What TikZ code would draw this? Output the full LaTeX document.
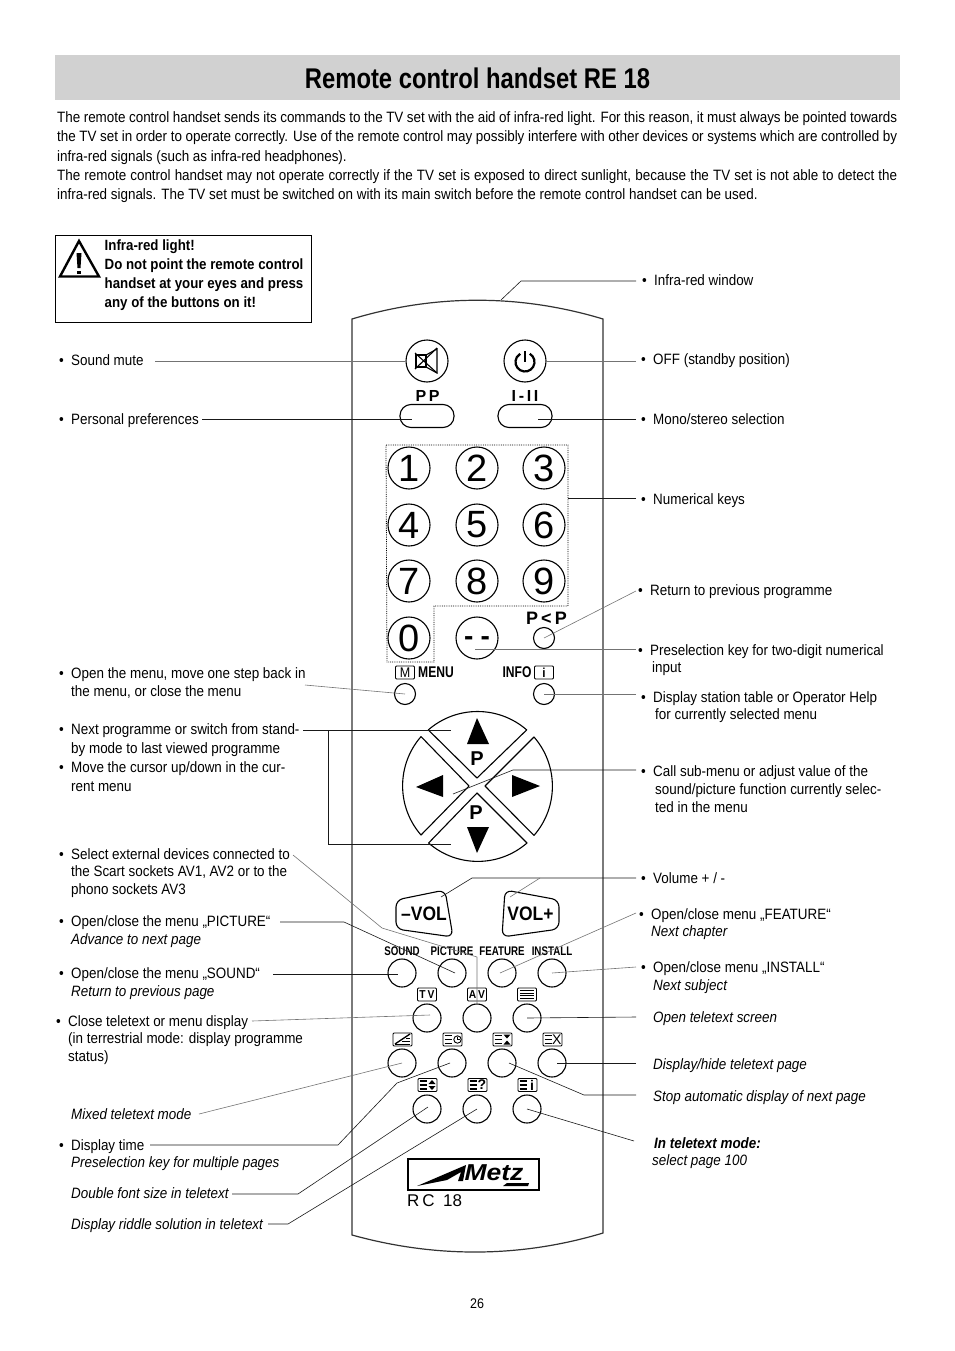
\documentclass[tikz,border=0pt]{standalone}
\usepackage{fontspec}
\usetikzlibrary{calc}
\setmainfont[FakeStretch=0.895]{Liberation Sans}
\newfontfamily\plainsans{Liberation Sans}
\newfontfamily\titlefamily[FakeStretch=0.835]{Liberation Sans}
\newfontfamily\narrowfamily[FakeStretch=0.78]{Liberation Sans}
\newfontfamily\logofamily[FakeStretch=1.15]{Liberation Sans}
\newcommand{\labelfont}{\fontsize{15}{18}\selectfont}
\newcommand{\keyfont}{\narrowfamily\bfseries\fontsize{12.5}{14}\selectfont}
\newcommand{\bul}{\textbullet\hspace{7.3pt}}
\newcommand{\ind}{\hspace*{12pt}}
\newcommand{\fullline}[1]{\makebox[840pt][s]{#1}}
\tikzset{
  label text/.style={
    anchor=north west,
    inner sep=0pt,
    yshift=-1pt,
    align=left,
    font=\labelfont
  },
  leader/.style={
    line width=0.6pt,
    color=black!90
  },
  faint leader/.style={
    line width=0.6pt,
    color=black!55
  },
  key line/.style={
    draw=black,
    line width=1.1pt
  },
  digit key/.style={
    key line,
    circle,
    inner sep=0pt,
    minimum size=42pt,
    font=\plainsans\fontsize{38}{38}\selectfont
  },
  round key/.style={
    key line,
    circle,
    inner sep=0pt,
    minimum size=28pt
  },
  tiny key/.style={
    key line,
    circle,
    inner sep=0pt,
    minimum size=21pt
  },
  pill key/.style={
    key line,
    rectangle,
    rounded corners=11pt,
    minimum width=54pt,
    minimum height=23pt
  },
  icon box/.style={
    draw=black,
    line width=0.9pt,
    rectangle,
    rounded corners=1pt,
    inner sep=0pt,
    minimum width=19pt,
    minimum height=13pt,
    font=\bfseries\fontsize{11.5}{11.5}\selectfont
  },
  key text/.style={
    inner sep=0pt,
    font=\plainsans\bfseries\fontsize{16}{16}\selectfont
  },
  small key text/.style={
    inner sep=0pt,
    font=\keyfont
  },
  menu lines/.pic={
    \draw[line width=1.2pt] (-3.5,-4) -- (3.5,-4) (-3.5,0) -- (3.5,0) (-3.5,4) -- (3.5,4);
  }
}
\begin{document}
\begin{tikzpicture}[x=1pt, y=-1pt]
  \useasboundingbox (0,0) rectangle (954,1351);

  %% ---- title band ----
  \fill[black!18] (55,55) rectangle (900,100);
  \node[inner sep=0pt, font=\titlefamily\bfseries\fontsize{28.5}{30}\selectfont] (titleText) at (477.5,78) {Remote control handset RE 18};

  %% ---- intro text ----
  \node[label text, font=\fontsize{15}{19.3}\selectfont] (introText) at (57,110.5) {%
    \fullline{The remote control handset sends its commands to the TV set with the aid of infra-red light. For this reason, it must always be pointed towards}\\
    \fullline{the TV set in order to operate correctly. Use of the remote control may possibly interfere with other devices or systems which are controlled by}\\
    infra-red signals (such as infra-red headphones).\\
    \fullline{The remote control handset may not operate correctly if the TV set is exposed to direct sunlight, because the TV set is not able to detect the}\\
    infra-red signals. The TV set must be switched on with its main switch before the remote control handset can be used.};

  %% ---- warning box ----
  \draw[line width=0.9pt] (55,235) rectangle (311,322);
  \draw[line width=2.4pt, line join=miter] (79,241) -- (99,276.5) -- (60,276.5) -- cycle;
  \fill (76.5,253) -- (81.5,253) -- (80.5,268) -- (77.5,268) -- cycle;
  \fill (77,271) rectangle (81,274);
  \node[label text, font=\bfseries\fontsize{14.85}{19}\selectfont] (warnText) at (104.5,238.5) {Infra-red light!\\Do not point the remote control\\handset at your eyes and press\\any of the buttons on it!};

  %% ---- handset outline ----
  \draw[line width=1.2pt, black!80] (352,319) .. controls (435,294) and (520,294) .. (603,319)
      -- (603,1233) .. controls (520,1258) and (435,1258) .. (352,1235) -- cycle;

  %% ---- mute and power ----
  \node[digit key] (keyMute) at (427,361) {};
  \node[digit key] (keyPower) at (525,361) {};
  \draw[line width=1.3pt] (416,355) rectangle (426,367);
  \draw[line width=1.1pt] (426,355) -- (437,349) -- (437,373) -- (426,367);
  \draw[line width=1.1pt] (415,353) -- (437,373) (415,369) -- (437,348);
  \draw[line width=2.2pt] (525,362) ++(300:9.5) arc[start angle=300, end angle=600, radius=9.5];
  \draw[line width=2.2pt] (525,351) -- (525,362);

  \node[key text] (textPP) at (427.5,395.5) {P\,P};
  \node[key text] (textMono) at (525,395.5) {I\,-\,I\,I};
  \node[pill key] (keyPP) at (427,416) {};
  \node[pill key] (keyMono) at (525,416) {};

  %% ---- number block ----
  \draw[densely dotted, line width=0.8pt] (386,445) -- (568,445) -- (568,606) -- (434,606) -- (434,662) -- (387,662) -- cycle;
  \foreach \digit/\px/\py in {1/409/468, 2/477/468, 3/544/468, 4/409/525, 5/477/525, 6/544/525, 7/409/581, 8/477/581, 9/544/581, 0/409/638}
    \node[digit key] (key\digit) at (\px,\py) {\digit};
  \node[digit key, font=\plainsans\bfseries\fontsize{28}{28}\selectfont] (keyDash) at (477,638) {\raisebox{-7.5pt}[0pt][0pt]{-\hspace{7pt}-}};
  \node[tiny key] (keyPrev) at (544,638) {};
  \node[key text, font=\plainsans\bfseries\fontsize{18}{18}\selectfont] (textPrev) at (546.5,618) {P\,<\,P};

  %% ---- menu and info ----
  \node[icon box, font=\fontsize{14}{14}\selectfont] (iconMenu) at (405,672.5) {M};
  \node[small key text, font=\narrowfamily\bfseries\fontsize{15.5}{15}\selectfont] (textMenu) at (436,672) {MENU};
  \node[small key text, font=\narrowfamily\bfseries\fontsize{15.5}{15}\selectfont] (textInfo) at (517,672) {INFO};
  \node[icon box, font=\bfseries\fontsize{13}{13}\selectfont] (iconInfo) at (544,672.5) {i};
  \node[tiny key] (keyMenu) at (405,694) {};
  \node[tiny key] (keyInfo) at (544,694) {};

  %% ---- cursor cross ----
  \draw[key line, line join=round] (428.3,729.9) arc[start angle=229, end angle=311, radius=75] -- (477,778) -- cycle;
  \draw[key line, line join=round] (534,737) arc[start angle=-41, end angle=41, radius=75] -- (485,786) -- cycle;
  \draw[key line, line join=round] (527,843) arc[start angle=49, end angle=131, radius=75] -- (477,793) -- cycle;
  \draw[key line, line join=round] (421,835) arc[start angle=139, end angle=221, radius=75] -- (469,786) -- cycle;
  \fill (477,718) -- (489,744) -- (467,744) -- cycle;
  \fill (477,853) -- (489,827) -- (467,827) -- cycle;
  \fill (416,787) -- (443,775) -- (443,797) -- cycle;
  \fill (540,786) -- (512,775) -- (512,797) -- cycle;
  \node[key text, font=\plainsans\bfseries\fontsize{20}{20}\selectfont] (textUp) at (477,759) {P};
  \node[key text, font=\plainsans\bfseries\fontsize{20}{20}\selectfont] (textDown) at (476,813) {P};

  %% ---- volume keys ----
  \draw[key line, rounded corners=7pt] (396,900) -- (445,890) -- (453,937) -- (396,929) -- cycle;
  \draw[key line, rounded corners=7pt] (559,900) -- (505,890) -- (502,937) -- (559,929) -- cycle;
  \node[key text, font=\bfseries\fontsize{19.5}{19.5}\selectfont] (textVolMinus) at (424,914) {–VOL};
  \node[key text, font=\bfseries\fontsize{19.5}{19.5}\selectfont] (textVolPlus) at (530.5,914) {VOL+};

  %% ---- colour row ----
  \foreach \name/\txt/\px in {Sound/SOUND/402, Picture/PICTURE/452, Feature/FEATURE/502, Install/INSTALL/552} {
    \node[small key text] (text\name) at (\px,951) {\txt};
    \node[round key] (key\name) at (\px,973) {};
  }

  %% ---- teletext rows ----
  \foreach \name/\px/\py in {Tv/427/1018, Av/477/1018, Text/527/1018, Mix/402/1063, Clock/452/1063, Stop/502/1063, Hide/552/1063, Size/427/1109, Riddle/477/1109, Page/527/1109}
    \node[round key] (key\name) at (\px,\py) {};

  \node[icon box] (iconTv) at (427,994.5) {T\,V};
  \node[icon box] (iconAv) at (477,994.5) {A\,V};
  \node[icon box] (iconText) at (527,994.5) {};
  \draw[line width=0.9pt] (520,990.5) -- (534,990.5) (520,993.2) -- (534,993.2) (520,995.9) -- (534,995.9) (520,998.6) -- (534,998.6);

  \node[icon box] (iconMix) at (402.5,1039.5) {};
  \draw[line width=1.3pt] (395,1044) -- (410,1034);
  \draw[line width=1pt] (395,1044.5) -- (410,1044.5) (402,1041.5) -- (410,1041.5) (406,1038.5) -- (410,1038.5);

  \node[icon box] (iconClock) at (452.5,1039.5) {};
  \pic at (448,1039.5) {menu lines};
  \draw[line width=0.9pt] (457.5,1039.5) circle[radius=3.7];
  \draw[line width=0.7pt] (457.5,1037) -- (457.5,1039.5) -- (460,1039.5);

  \node[icon box] (iconHold) at (502.5,1039.5) {};
  \pic at (498,1039.5) {menu lines};
  \fill (503.5,1034.5) -- (510.5,1034.5) -- (507,1038.5) -- cycle;
  \fill (503.5,1044.5) -- (510.5,1044.5) -- (507,1040.5) -- cycle;

  \node[icon box] (iconHide) at (552.5,1039.5) {};
  \pic at (548,1039.5) {menu lines};
  \node[inner sep=0pt, font=\plainsans\fontsize{14}{14}\selectfont] (textHide) at (556.8,1039.5) {X};

  \node[icon box] (iconSize) at (427.5,1085) {};
  \pic at (423,1085) {menu lines};
  \fill (428.5,1084) -- (435.5,1084) -- (432,1080) -- cycle;
  \fill (428.5,1086) -- (435.5,1086) -- (432,1090) -- cycle;

  \node[icon box] (iconRiddle) at (477.5,1085) {};
  \pic at (473,1085) {menu lines};
  \node[inner sep=0pt, font=\plainsans\bfseries\fontsize{14}{14}\selectfont] (textRiddle) at (481.8,1085) {?};

  \node[icon box] (iconPage) at (527.5,1085) {};
  \pic at (523,1085) {menu lines};
  \node[inner sep=0pt, font=\plainsans\bfseries\fontsize{14}{14}\selectfont] (textPage) at (532,1085) {i};

  %% ---- logo ----
  \draw[line width=1.6pt] (408,1159) rectangle (539,1190);
  \fill (417,1186) -- (466,1165) -- (463,1181) -- (458,1181) -- (461,1172) -- (447,1180) -- cycle;
  \fill (503,1186) -- (528,1186) -- (529,1183) -- (507,1183) -- cycle;
  \node[inner sep=0pt, font=\logofamily\bfseries\itshape\fontsize{23}{23}\selectfont] (logoText) at (494,1173) {Metz};
  \node[anchor=west, inner sep=0pt, font=\plainsans\fontsize{17}{17}\selectfont] (modelText) at (407,1201) {R\,C\,\,\,18};

  %% ---- left labels ----
  \node[label text] (lblMute) at (59,353) {\bul Sound mute};
  \node[label text] (lblPersonal) at (59,412) {\bul Personal preferences};
  \node[label text] (lblMenu) at (59,666) {\bul Open the menu, move one step back in\\\ind the menu, or close the menu};
  \node[label text, font=\fontsize{15}{19}\selectfont] (lblNext) at (59,722) {\bul Next programme or switch from stand-\\\ind by mode to last viewed programme\\\bul Move the cursor up/down in the cur-\\\ind rent menu};
  \node[label text, font=\fontsize{15}{17.5}\selectfont] (lblExternal) at (59,847) {\bul Select external devices connected to\\\ind the Scart sockets AV1, AV2 or to the\\\ind phono sockets AV3};
  \node[label text] (lblPicture) at (59,914) {\bul Open/close the menu „PICTURE“\\\ind\textit{Advance to next page}};
  \node[label text] (lblSound) at (59,966) {\bul Open/close the menu „SOUND“\\\ind\textit{Return to previous page}};
  \node[label text, font=\fontsize{15}{17.5}\selectfont] (lblClose) at (56,1014) {\bul Close teletext or menu display\\\ind(in terrestrial mode: display programme\\\ind status)};
  \node[label text, font=\labelfont\itshape] (lblMixed) at (71,1107) {Mixed teletext mode};
  \node[label text, font=\fontsize{15}{17.5}\selectfont] (lblTime) at (59,1138) {\bul Display time\\\ind\textit{Preselection key for multiple pages}};
  \node[label text, font=\labelfont\itshape] (lblDouble) at (71,1186) {Double font size in teletext};
  \node[label text, font=\labelfont\itshape] (lblRiddle) at (71,1217) {Display riddle solution in teletext};

  %% ---- right labels ----
  \node[label text] (lblWindow) at (642,273) {\bul Infra-red window};
  \node[label text] (lblOff) at (641,352) {\bul OFF (standby position)};
  \node[label text] (lblMono) at (641,412) {\bul Mono/stereo selection};
  \node[label text] (lblNumeric) at (641,492) {\bul Numerical keys};
  \node[label text] (lblReturn) at (638,583) {\bul Return to previous programme};
  \node[label text, font=\fontsize{15}{17.5}\selectfont] (lblPreselect) at (638,643) {\bul Preselection key for two-digit numerical\\\hspace*{14pt}input};
  \node[label text, font=\fontsize{15}{17.5}\selectfont] (lblStation) at (641,690) {\bul Display station table or Operator Help\\\hspace*{14pt}for currently selected menu};
  \node[label text] (lblCall) at (641,764) {\bul Call sub-menu or adjust value of the\\\hspace*{14pt}sound/picture function currently selec-\\\hspace*{14pt}ted in the menu};
  \node[label text] (lblVolume) at (641,871) {\bul Volume + / -};
  \node[label text, font=\fontsize{15}{17.5}\selectfont] (lblFeature) at (639,907) {\bul Open/close menu „FEATURE“\\\ind\textit{Next chapter}};
  \node[label text] (lblInstall) at (641,960) {\bul Open/close menu „INSTALL“\\\ind\textit{Next subject}};
  \node[label text, font=\labelfont\itshape] (lblOpen) at (653,1010) {Open teletext screen};
  \node[label text, font=\labelfont\itshape] (lblHide) at (653,1057) {Display/hide teletext page};
  \node[label text, font=\labelfont\itshape] (lblStop) at (653,1089) {Stop automatic display of next page};
  \node[label text, font=\fontsize{15}{17.5}\selectfont\itshape] (lblTeletext) at (652,1136) {\hspace*{2pt}\textbf{In teletext mode:}\\select page 100};
  \node[inner sep=0pt, font=\fontsize{14}{14}\selectfont] (pageNumber) at (477,1304) {26};

  %% ---- free ends of the leaders ----
  \coordinate (tipWindow) at (636,281);
  \coordinate (tipBody) at (501,300);
  \coordinate (tipMute) at (155,361);
  \coordinate (tipOff) at (636,361);
  \coordinate (tipPersonal) at (202,419);
  \coordinate (tipMono) at (636,419);
  \coordinate (tipNumeric) at (636,498);
  \coordinate (tipBlock) at (568,498);
  \coordinate (tipReturn) at (636,591);
  \coordinate (tipPreselect) at (636,649);
  \coordinate (tipMenu) at (305,685);
  \coordinate (tipStation) at (636,694);
  \coordinate (tipNext) at (303,730);
  \coordinate (tipUp) at (451,730);
  \coordinate (tipDown) at (451,844);
  \coordinate (tipCall) at (636,770);
  \coordinate (tipCross) at (453,794);
  \coordinate (tipVolume) at (636,878);
  \coordinate (tipVolMinus) at (441,897);
  \coordinate (tipVolPlus) at (510,897);
  \coordinate (tipExternal) at (293,855);
  \coordinate (tipPicture) at (280,922);
  \coordinate (tipSound) at (273,974);
  \coordinate (tipClose) at (252,1021);
  \coordinate (tipFeature) at (636,913);
  \coordinate (tipInstall) at (636,967);
  \coordinate (tipOpen) at (636,1017);
  \coordinate (tipMixed) at (199,1114);
  \coordinate (tipTime) at (150,1145);
  \coordinate (tipDouble) at (232,1194);
  \coordinate (tipRiddle) at (268,1224);
  \coordinate (tipHide) at (636,1063);
  \coordinate (tipStop) at (636,1095);
  \coordinate (tipTeletext) at (634,1141);

  %% ---- leaders ----
  \draw[leader] (tipWindow) -- (521,281) -- (tipBody);
  \draw[faint leader] (tipMute) -- (keyMute.west);
  \draw[faint leader] (tipOff) -- (keyPower.east);
  \draw[leader] (tipPersonal) -- ($ (keyPP)+(-15,3) $);
  \draw[leader] (tipMono) -- ($ (keyMono)+(13,3) $);
  \draw[leader] (tipNumeric) -- (tipBlock);
  \draw[faint leader] (tipReturn) -- (keyPrev.center);
  \draw[faint leader] (tipPreselect) -- ($ (keyDash)+(-2,11) $);
  \draw[faint leader] (tipMenu) -- (keyMenu.center);
  \draw[faint leader] (tipStation) -- (keyInfo.center);
  \draw[leader] (tipNext) -- (tipUp);
  \draw[leader] (tipNext) -- (328,730) -- (328,844) -- (tipDown);
  \draw[leader] (tipCall) -- (513,770) -- (tipCross);
  \draw[leader] (tipVolume) -- (472,878) -- (tipVolMinus);
  \draw[faint leader] (540,878) -- (tipVolPlus);
  \draw[faint leader] (tipExternal) -- (382,928) -- (477,957) -- (keyAv.north);
  \draw[leader] (tipPicture) -- (344,922) -- ($ (keyPicture)+(3,0) $);
  \draw[leader] (tipSound) -- ($ (keySound)+(-4,1) $);
  \draw[faint leader] (tipClose) -- ($ (keyTv)+(3,-3) $);
  \draw[faint leader] (tipFeature) -- ($ (keyFeature)+(-2,0) $);
  \draw[faint leader] (tipInstall) -- (keyInstall.center);
  \draw[leader] (tipOpen) -- (keyText.center);
  \draw[faint leader] (tipMixed) -- (keyMix.center);
  \draw[leader] (tipTime) -- (338,1145) -- (397,1083) -- ($ (keyClock)+(-2,0) $);
  \draw[leader] (tipDouble) -- (298,1194) -- ($ (keySize)+(1,-2) $);
  \draw[leader] (tipRiddle) -- (288,1224) -- (keyRiddle.center);
  \draw[leader] (tipHide) -- ($ (keyHide)+(5,0) $);
  \draw[leader] (tipStop) -- (584,1095) -- ($ (keyStop)+(7,0) $);
  \draw[leader] (tipTeletext) -- (keyPage.center);

\end{tikzpicture}
\end{document}
